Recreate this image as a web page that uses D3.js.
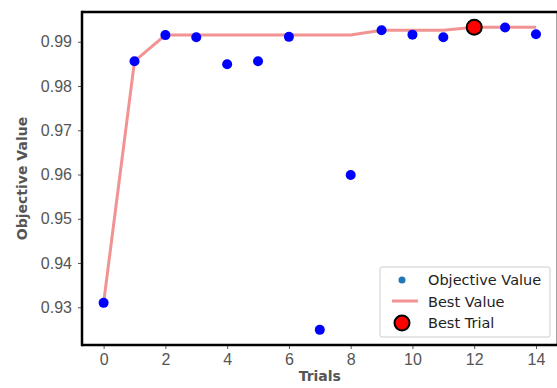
<!DOCTYPE html>
<html>
<head>
<meta charset="utf-8">
<script src="https://cdn.jsdelivr.net/npm/d3@7"></script>
<style>
  body { margin: 0; background: #fff; }
  svg { font-family: "DejaVu Sans", sans-serif; }
</style>
</head>
<body>
<div id="chart"></div>
<script>
// Data
const trials = [0, 1, 2, 3, 4, 5, 6, 7, 8, 9, 10, 11, 12, 13, 14];
const objectiveValues = [0.9310, 0.9856, 0.9915, 0.9910, 0.9849, 0.9856, 0.9911, 0.9249, 0.9599, 0.9926, 0.9916, 0.9910, 0.9933, 0.9932, 0.9917];
const bestValues = [0.9310, 0.9856, 0.9915, 0.9915, 0.9915, 0.9915, 0.9915, 0.9915, 0.9915, 0.9926, 0.9926, 0.9926, 0.9933, 0.9933, 0.9933];
const bestTrial = 12;
const xTicks = [0, 2, 4, 6, 8, 10, 12, 14];
const yTicks = [0.93, 0.94, 0.95, 0.96, 0.97, 0.98, 0.99];
const legendLabels = ["Objective Value", "Best Value", "Best Trial"];

// Dimensions
let w = 557, h = 388;
let m = { left: 82, top: 12, right: 557.6, bottom: 345 };

let svg = d3.select("#chart").append("svg").attr("width", w).attr("height", h);

// Scales
let x = d3.scaleLinear().domain([-0.7, 14.7]).range([m.left, m.right]);
let y = d3.scaleLinear().domain([0.92148, 0.99672]).range([m.bottom, m.top]);

// Axes
let xAxis = svg.append("g").attr("transform", `translate(0,${m.bottom})`)
  .call(d3.axisBottom(x).tickValues(xTicks).tickFormat(d3.format("d")).tickSize(4).tickPadding(5));
let yAxis = svg.append("g").attr("transform", `translate(${m.left},0)`)
  .call(d3.axisLeft(y).tickValues(yTicks).tickFormat(d3.format(".2f")).tickSize(4).tickPadding(6));
[xAxis, yAxis].forEach(a => {
  a.select(".domain").remove();
  a.selectAll(".tick line").attr("stroke", "#555").attr("stroke-width", 1);
  a.selectAll(".tick text").attr("fill", "#555").style("font-size", "16px");
});

// Spines
svg.append("line").attr("x1", m.right - 1).attr("x2", m.right - 1).attr("y1", m.top).attr("y2", m.bottom).attr("stroke", "#999").attr("stroke-width", 1);
svg.append("line").attr("x1", m.left).attr("x2", m.right).attr("y1", m.top).attr("y2", m.top).attr("stroke", "#000").attr("stroke-width", 2.5);
svg.append("line").attr("x1", m.left).attr("x2", m.left).attr("y1", m.top - 1.25).attr("y2", m.bottom + 1.25).attr("stroke", "#000").attr("stroke-width", 2.5);
svg.append("line").attr("x1", m.left).attr("x2", m.right).attr("y1", m.bottom).attr("y2", m.bottom).attr("stroke", "#000").attr("stroke-width", 2.5);

// Best value line
let line = d3.line().x((d, i) => x(trials[i])).y(d => y(d));
svg.append("path").datum(bestValues).attr("d", line)
  .attr("fill", "none").attr("stroke", "#f08080").attr("stroke-opacity", 0.85).attr("stroke-width", 3);

// Objective points
svg.selectAll("circle.obj").data(objectiveValues).enter().append("circle").attr("class", "obj")
  .attr("cx", (d, i) => x(trials[i])).attr("cy", d => y(d)).attr("r", 5).attr("fill", "#0000ff");

// Best trial marker
svg.append("circle").attr("cx", x(bestTrial)).attr("cy", y(objectiveValues[bestTrial]))
  .attr("r", 7.5).attr("fill", "#ff0000").attr("stroke", "#000").attr("stroke-width", 2);

// Axis labels
svg.append("text").attr("x", (m.left + m.right) / 2).attr("y", 381).attr("text-anchor", "middle")
  .attr("fill", "#555").style("font-size", "14px").style("font-weight", "bold").text("Trials");
svg.append("text").attr("transform", `translate(27,${(m.top + m.bottom) / 2}) rotate(-90)`).attr("text-anchor", "middle")
  .attr("fill", "#555").style("font-size", "14px").style("font-weight", "bold").text("Objective Value");

// Legend
let lg = svg.append("g").attr("transform", "translate(380,267)");
lg.append("rect").attr("width", 170).attr("height", 70).attr("rx", 2)
  .attr("fill", "#fff").attr("fill-opacity", 0.8).attr("stroke", "#ccc");
lg.append("circle").attr("cx", 22).attr("cy", 13).attr("r", 3.5).attr("fill", "#1f77b4");
lg.append("line").attr("x1", 12).attr("x2", 38).attr("y1", 34).attr("y2", 34)
  .attr("stroke", "#f08080").attr("stroke-opacity", 0.85).attr("stroke-width", 3);
lg.append("circle").attr("cx", 22).attr("cy", 56).attr("r", 7.5).attr("fill", "#ff0000").attr("stroke", "#000").attr("stroke-width", 2);
lg.selectAll("text").data(legendLabels).enter().append("text")
  .attr("x", 48).attr("y", (d, i) => 18 + i * 21.5).attr("fill", "#222").style("font-size", "14.5px").text(d => d);
</script>
</body>
</html>
